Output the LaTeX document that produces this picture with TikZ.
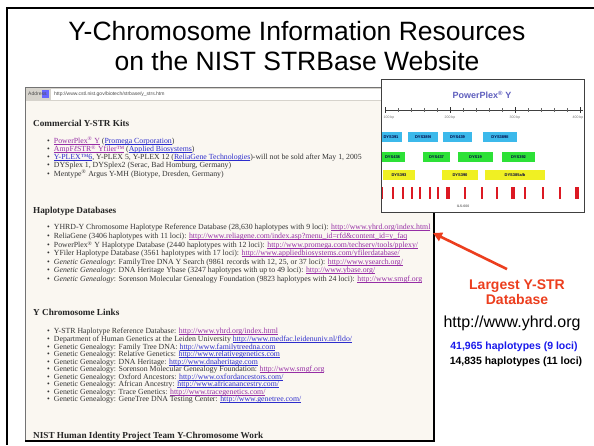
\documentclass[tikz,border=0pt]{standalone}
\usepackage{fontspec}
\setmainfont{Liberation Sans}
\newfontfamily\webfont{Liberation Serif}
\usetikzlibrary{arrows.meta}

\definecolor{slidered}{RGB}{236,62,30}
\definecolor{countblue}{RGB}{25,25,235}
\definecolor{webbg}{RGB}{250,247,241}
\definecolor{barbg}{RGB}{214,211,204}
\definecolor{linkblue}{RGB}{45,45,205}
\definecolor{linkvisit}{RGB}{150,45,165}
\definecolor{ppblue}{RGB}{95,95,190}
\definecolor{locblue}{RGB}{60,185,235}
\definecolor{locgreen}{RGB}{45,225,55}
\definecolor{locyellow}{RGB}{240,240,35}
\definecolor{ilsred}{RGB}{220,25,35}

% link text with a thin underline
\newcommand{\lnk}[2]{\textcolor{#1}{\setbox0\hbox{#2}\rlap{\rule[-0.9pt]{\wd0}{0.35pt}}\box0}}
\newcommand{\blnk}[1]{\lnk{linkblue}{#1}}
\newcommand{\vlnk}[1]{\lnk{linkvisit}{#1}}
\newcommand{\bul}{\textbullet\hspace{4pt}}
\newcommand{\sreg}{\textsuperscript{®}}

\tikzset{
  slidetitle/.style={align=center,inner sep=0pt,font=\fontsize{26.5}{30}\selectfont},
  webline/.style={anchor=west,inner sep=0pt,text=black!80,font=\webfont\fontsize{7.8}{8}\selectfont},
  webhead/.style={anchor=west,inner sep=0pt,text=black!85,font=\webfont\bfseries\fontsize{9.2}{10}\selectfont},
  addrtext/.style={anchor=west,inner sep=0pt,text=black!70,font=\fontsize{5}{6}\selectfont},
  locus/.style={minimum height=10pt,inner sep=0pt,text=blue!25!black,font=\bfseries\fontsize{4}{4}\selectfont},
  tinylabel/.style={inner sep=0pt,text=black!55,font=\fontsize{3.5}{4}\selectfont},
  bigred/.style={align=center,inner sep=1pt,text=slidered,font=\bfseries\fontsize{14}{15.5}\selectfont},
  counts/.style={inner sep=0pt,font=\bfseries\fontsize{10.5}{12}\selectfont}
}

\begin{document}
\begin{tikzpicture}[x=1pt,y=-1pt]
\useasboundingbox (0,0) rectangle (594,445);
\fill[white] (0,0) rectangle (594,445);
\draw[line width=2pt] (594,7.5) -- (7,7.5) -- (7,445);

\node[slidetitle] (title) at (297,46) {Y-Chromosome Information Resources\\on the NIST STRBase Website};

% browser screenshot
\begin{scope}
\clip (25,87) rectangle (434,441);
\fill[webbg] (25,87) rectangle (434,441);
\fill[barbg] (25,87) rectangle (434,101);
\fill[white] (51,88.5) rectangle (434,99.5);
\fill[blue!60] (42,89.5) rectangle (49,97.5);
\node[addrtext] (addrlabel) at (28,94) {Address};
\node[addrtext] (addrurl) at (54,94) {http://www.cstl.nist.gov/biotech/strbase/y\_strs.htm};

\node[webhead] (kits) at (33,123) {Commercial Y-STR Kits};
\node[webline] (kit1) at (47,141) {\bul\vlnk{PowerPlex\sreg{} Y} (\blnk{Promega Corporation})};
\node[webline] (kit2) at (47,149.5) {\bul\vlnk{AmpF\textit{ℓ}STR\sreg{} Yfiler™} (\blnk{Applied Biosystems})};
\node[webline] (kit3) at (47,157.5) {\bul\blnk{Y-PLEX™6}, Y-PLEX 5, Y-PLEX 12 (\blnk{ReliaGene Technologies})-will not be sold after May 1, 2005};
\node[webline] (kit4) at (47,165.5) {\bul DYSplex 1, DYSplex2 (Serac, Bad Homburg, Germany)};
\node[webline] (kit5) at (47,174) {\bul Mentype\sreg{} Argus Y-MH (Biotype, Dresden, Germany)};

\node[webhead] (haplo) at (33,211) {Haplotype Databases};
\node[webline] (hap1) at (47,228) {\bul YHRD-Y Chromosome Haplotype Reference Database (28,630 haplotypes with 9 loci): \vlnk{http://www.yhrd.org/index.html}};
\node[webline] (hap2) at (47,237) {\bul ReliaGene (3406 haplotypes with 11 loci): \vlnk{http://www.reliagene.com/index.asp?menu\_id=rfd\&content\_id=y\_faq}};
\node[webline] (hap3) at (47,245.5) {\bul PowerPlex\sreg{} Y Haplotype Database (2440 haplotypes with 12 loci): \vlnk{http://www.promega.com/techserv/tools/pplexy/}};
\node[webline] (hap4) at (47,254) {\bul YFiler Haplotype Database (3561 haplotypes with 17 loci): \vlnk{http://www.appliedbiosystems.com/yfilerdatabase/}};
\node[webline] (hap5) at (47,262.5) {\bul\textit{Genetic Genealogy}: FamilyTree DNA Y Search (9861 records with 12, 25, or 37 loci): \vlnk{http://www.ysearch.org/}};
\node[webline] (hap6) at (47,271) {\bul\textit{Genetic Genealogy}: DNA Heritage Ybase (3247 haplotypes with up to 49 loci): \vlnk{http://www.ybase.org/}};
\node[webline] (hap7) at (47,279.5) {\bul\textit{Genetic Genealogy}: Sorenson Molecular Genealogy Foundation (9823 haplotypes with 24 loci): \vlnk{http://www.smgf.org}};

\node[webhead] (ylinks) at (33,312) {Y Chromosome Links};
\node[webline] (lnk1) at (47,332) {\bul Y-STR Haplotype Reference Database: \vlnk{http://www.yhrd.org/index.html}};
\node[webline] (lnk2) at (47,340) {\bul Department of Human Genetics at the Leiden University \blnk{http://www.medfac.leidenuniv.nl/fldo/}};
\node[webline] (lnk3) at (47,347.5) {\bul Genetic Genealogy: Family Tree DNA: \blnk{http://www.familytreedna.com}};
\node[webline] (lnk4) at (47,355) {\bul Genetic Genealogy: Relative Genetics: \blnk{http://www.relativegenetics.com}};
\node[webline] (lnk5) at (47,362.5) {\bul Genetic Genealogy: DNA Heritage: \blnk{http://www.dnaheritage.com}};
\node[webline] (lnk6) at (47,370) {\bul Genetic Genealogy: Sorenson Molecular Genealogy Foundation: \vlnk{http://www.smgf.org}};
\node[webline] (lnk7) at (47,377.5) {\bul Genetic Genealogy: Oxford Ancestors: \blnk{http://www.oxfordancestors.com/}};
\node[webline] (lnk8) at (47,385) {\bul Genetic Genealogy: African Ancestry: \blnk{http://www.africanancestry.com/}};
\node[webline] (lnk9) at (47,392.5) {\bul Genetic Genealogy: Trace Genetics: \vlnk{http://www.tracegenetics.com/}};
\node[webline] (lnk10) at (47,400) {\bul Genetic Genealogy: GeneTree DNA Testing Center: \blnk{http://www.genetree.com/}};

\node[webhead] (nistwork) at (33,436) {NIST Human Identity Project Team Y-Chromosome Work};
\end{scope}
\draw[black!55,line width=0.8pt] (25,441) -- (25,87) -- (434,87);
\draw[line width=1.5pt] (434,87) -- (434,441) -- (25,441);

% PowerPlex Y inset
\fill[white] (381,79) rectangle (584,212);
\begin{scope}
\clip (381,79) rectangle (584,212);
\node[inner sep=0pt,text=ppblue,font=\bfseries\fontsize{9}{10}\selectfont] (pptitle) at (482,95) {PowerPlex\sreg{} Y};
\draw[black!75,line width=0.8pt] (385,110) -- (583,110);
\foreach \t in {0,...,15}
  \draw[black!60,line width=0.5pt] (385+13*\t,108) -- (385+13*\t,112);
\foreach \t in {0,1,2,3}
  \draw[black!80,line width=0.9pt] (385+65*\t,107) -- (385+65*\t,113);
\node[tinylabel] (bp100) at (389,118) {100 bp};
\node[tinylabel] (bp200) at (450,118) {200 bp};
\node[tinylabel] (bp300) at (515,118) {300 bp};
\node[tinylabel] (bp400) at (578,118) {400 bp};

\node[locus,fill=locblue,minimum width=22pt] (dys391) at (391,137) {DYS391};
\node[locus,fill=locblue,minimum width=30pt] (dys389i) at (423,137) {DYS389I};
\node[locus,fill=locblue,minimum width=29pt] (dys439) at (457.5,137) {DYS439};
\node[locus,fill=locblue,minimum width=34pt] (dys389ii) at (500,137) {DYS389II};

\node[locus,fill=locgreen,minimum width=25pt] (dys438) at (392.5,157) {DYS438};
\node[locus,fill=locgreen,minimum width=27pt] (dys437) at (436.5,157) {DYS437};
\node[locus,fill=locgreen,minimum width=35pt] (dys19) at (475.5,157) {DYS19};
\node[locus,fill=locgreen,minimum width=33pt] (dys392) at (518.5,157) {DYS392};

\node[locus,fill=locyellow,minimum width=32pt] (dys393) at (399,175) {DYS393};
\node[locus,fill=locyellow,minimum width=36pt] (dys390) at (460,175) {DYS390};
\node[locus,fill=locyellow,minimum width=60pt] (dys385) at (515,175) {DYS385a/b};

\foreach \x in {382,393,403,412,420,430,438,465,482,497,525,543,560}
  \fill[ilsred] (\x-1.1,187) rectangle (\x+1.1,199);
\foreach \x in {448,513,577}
  \fill[ilsred] (\x-2,187) rectangle (\x+2,199);
\node[tinylabel,font=\bfseries\fontsize{3.5}{4}\selectfont] (ils) at (463,206) {ILS-600};
\end{scope}
\draw[black!75,line width=0.6pt] (381,79) rectangle (584,212);

% right column
\node[bigred] (largest) at (517,292) {Largest Y-STR\\Database};
\node[inner sep=0pt,font=\fontsize{16}{18}\selectfont] (yhrdurl) at (512,323) {http://www.yhrd.org};
\node[counts,text=countblue] (count9) at (514,347) {41,965 haplotypes (9 loci)};
\node[counts] (count11) at (516,362) {14,835 haplotypes (11 loci)};

\coordinate (yhrdlink) at (433,233);
\draw[slidered,line width=2.6pt,-{Triangle[length=9pt,width=9pt]}] ([shift={(-10,-9)}]largest.north) -- (yhrdlink);

\end{tikzpicture}
\end{document}
